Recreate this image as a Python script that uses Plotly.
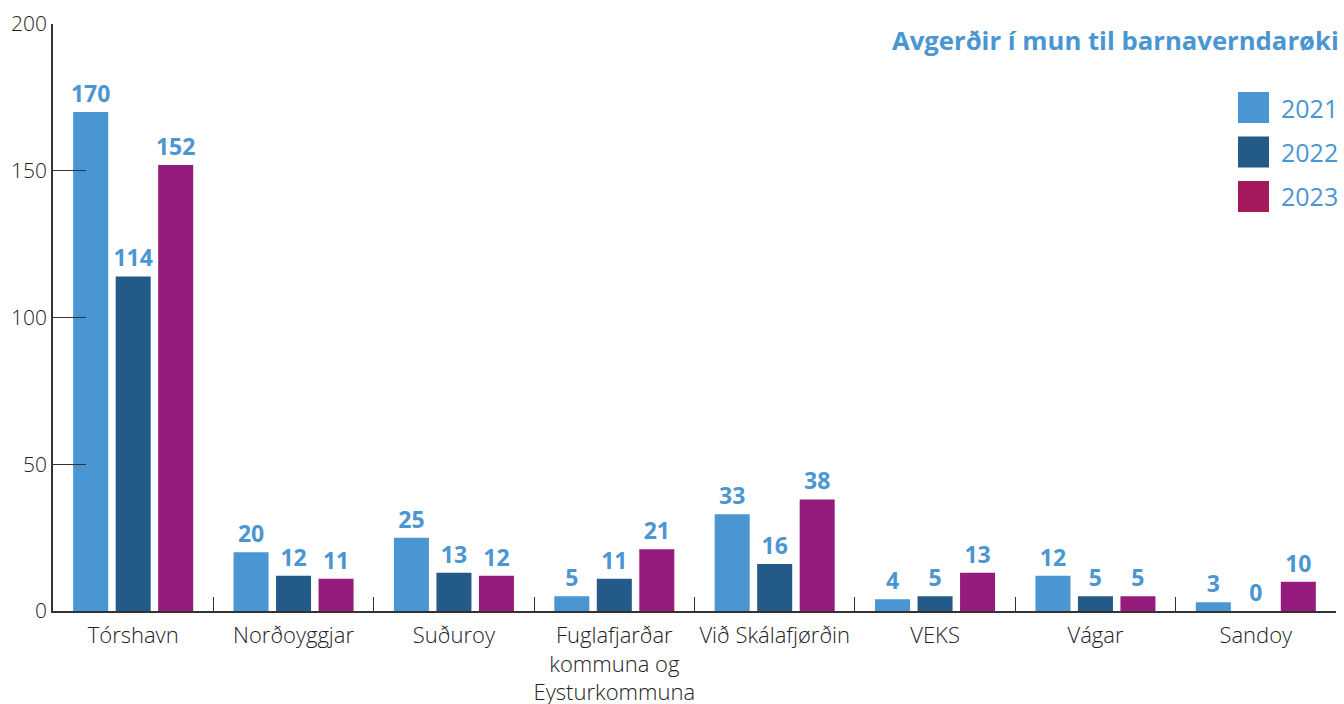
import plotly.graph_objects as go

categories = ["Tórshavn", "Norðoyggjar", "Suðuroy", "Fuglafjarðar<br>kommuna og<br>Eysturkommuna",
              "Við Skálafjørðin", "VEKS", "Vágar", "Sandoy"]
years = ["2021", "2022", "2023"]
v2021 = [170, 20, 25, 5, 33, 4, 12, 3]
v2022 = [114, 12, 13, 11, 16, 5, 5, 0]
v2023 = [152, 11, 12, 21, 38, 13, 5, 10]
series = [v2021, v2022, v2023]
bar_colors = ["#4A96D3", "#235A87", "#951C7C"]
legend_colors = ["#4A96D3", "#235A87", "#A3195B"]
title = "Avgerðir í mun til barnaverndarøki"

LABEL_BLUE = "#4A96D3"
FONT = "Open Sans"

W, H = 1344, 704
ml, mr, mt, mb = 53, 8, 24, 93
pw, ph = W - ml - mr, H - mt - mb

def px_x(x):  # screen px -> paper
    return (x - ml) / pw

def px_y(y):
    return (mt + ph - y) / ph

fig = go.Figure()
for name, vals, col in zip(years, series, bar_colors):
    fig.add_trace(go.Bar(
        x=categories, y=vals, name=name, marker=dict(color=col, line=dict(width=0)),
        text=[str(v) for v in vals], textposition="outside", constraintext="none",
        textfont=dict(family=FONT, size=23, color=LABEL_BLUE, weight="bold"),
        cliponaxis=False, showlegend=False, hoverinfo="x+y+name",
    ))

shapes = []
annotations = []
for i, (name, col) in enumerate(zip(years, legend_colors)):
    top = 92 + i * 44.5
    shapes.append(dict(type="rect", xref="paper", yref="paper",
                       x0=px_x(1238), x1=px_x(1269), y0=px_y(top + 31), y1=px_y(top),
                       fillcolor=col, line=dict(width=0)))
    annotations.append(dict(xref="paper", yref="paper", x=px_x(1279), y=px_y(top + 15.5),
                            text=name, showarrow=False, xanchor="left", yanchor="middle",
                            font=dict(family=FONT, size=25, color=LABEL_BLUE)))

annotations.append(dict(xref="paper", yref="paper", x=px_x(1341), y=px_y(40),
                        text="<b>" + title + "</b>", showarrow=False,
                        xanchor="right", yanchor="middle",
                        font=dict(family=FONT, size=25.7, color=LABEL_BLUE)))

fig.update_layout(
    width=W, height=H,
    margin=dict(l=ml, r=mr, t=mt, b=mb, autoexpand=False),
    paper_bgcolor="white", plot_bgcolor="white",
    barmode="group", bargap=0.205, bargroupgap=0.176,
    shapes=shapes, annotations=annotations,
    font=dict(family=FONT, color="#222222"),
    xaxis=dict(
        showline=True, linecolor="#333333", linewidth=1.5,
        ticks="inside", tickson="boundaries", ticklen=14, tickcolor="#333333", tickwidth=1.2,
        tickangle=0, ticklabelstandoff=4,
        tickfont=dict(family=FONT, size=22, color="#222222", weight=300),
        showgrid=False, zeroline=False, fixedrange=True,
    ),
    yaxis=dict(
        range=[0, 200], tickvals=[0, 50, 100, 150, 200],
        showline=True, linecolor="#333333", linewidth=1.5,
        ticks="inside", ticklen=33, tickcolor="#333333", tickwidth=1.2,
        tickfont=dict(family=FONT, size=21, color="#222222", weight=300),
        showgrid=False, zeroline=False, fixedrange=True,
    ),
)

fig.write_html("out.html", config={"displayModeBar": False},
               post_script="document.body.style.margin='0px';")
